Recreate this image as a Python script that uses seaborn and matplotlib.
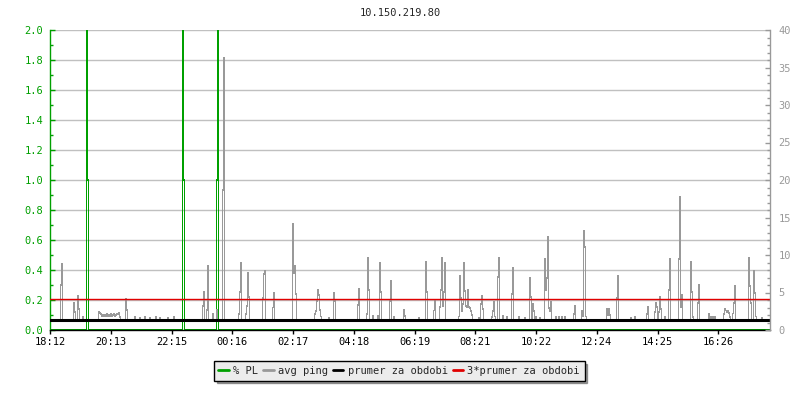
import numpy as np
import pandas as pd
import matplotlib
matplotlib.use("Agg")
import matplotlib.pyplot as plt
from matplotlib.ticker import MultipleLocator, FormatStrFormatter
from matplotlib.lines import Line2D
import seaborn as sns

host = "10.150.219.80"

# 24 h window from 18:12, one slot = 2 minutes
slot_min = 2
n_slots = 720
base_ms = 1.3

# avg ping spikes (slot number, ms)
spike_slot = [11, 12, 24, 25, 28, 29, 33, 76, 77, 85, 90, 95, 100, 106, 110, 118, 124,
              153, 154, 157, 158, 163, 167, 173, 174,
              189, 190, 191, 196, 197, 198, 199, 213, 214, 215, 223, 224, 243, 244, 245, 246,
              265, 266, 267, 268, 269, 270, 271, 279, 284, 285, 308, 309,
              317, 318, 319, 323, 328, 330, 331, 340, 341, 344, 354, 355,
              369, 376, 377, 384, 385, 390, 391, 392, 393, 394, 395,
              409, 410, 411, 412, 413, 414, 415, 416, 417, 418, 419, 420, 421, 422,
              429, 431, 432, 433, 442, 443, 444, 445, 448, 449, 453, 457,
              462, 463, 469, 475, 480, 481, 483, 484, 486, 490,
              495, 496, 497, 498, 499, 500, 501, 506, 509, 512, 515,
              524, 525, 532, 533, 534, 535, 536,
              557, 558, 559, 560, 567, 568, 581, 585,
              597, 598, 605, 606, 607, 609, 610, 611, 615,
              619, 620, 629, 630, 631, 632, 641, 642, 643, 648, 649,
              659, 661, 663, 665, 674, 675, 676, 677, 678, 679, 680,
              683, 684, 685, 699, 700, 701, 704, 705, 706, 712]
spike_ms = [6.0, 8.8, 3.6, 2.4, 4.5, 2.8, 1.8, 4.1, 2.7, 1.7, 1.6, 1.7, 1.6, 1.7, 1.6, 1.6, 1.7,
            3.2, 5.1, 2.7, 8.5, 2.1, 2.7, 18.7, 36.3,
            2.1, 5.1, 8.9, 2.1, 3.2, 7.6, 4.4, 4.3, 7.5, 7.9, 3.0, 5.0, 14.1, 7.6, 8.5, 4.8,
            2.1, 2.5, 3.9, 5.3, 4.7, 2.7, 1.8, 1.6, 4.9, 3.9, 3.3, 5.5,
            2.1, 9.6, 5.3, 1.9, 1.9, 8.9, 5.1, 3.9, 6.5, 1.7, 2.7, 1.9,
            1.6, 9.1, 5.1, 2.6, 3.9, 3.1, 5.3, 9.6, 3.2, 5.1, 8.9,
            1.8, 7.2, 4.3, 2.5, 3.5, 8.9, 5.2, 3.2, 3.1, 5.4, 3.1, 2.9, 2.5, 2.0,
            1.6, 3.5, 4.5, 2.8, 1.7, 2.5, 3.7, 1.8, 7.1, 9.6, 1.9, 1.7,
            4.8, 8.3, 1.7, 1.6, 6.9, 4.4, 3.5, 2.5, 1.7, 1.6,
            9.5, 5.3, 6.9, 12.4, 2.9, 2.5, 3.7, 1.7, 1.7, 1.7, 1.7,
            2.1, 3.2, 2.5, 1.8, 13.2, 11.1, 1.8,
            2.8, 2.0, 2.8, 2.0, 4.3, 7.2, 1.6, 1.7,
            2.1, 3.1, 2.4, 3.6, 3.1, 2.4, 4.4, 2.8, 1.7,
            5.3, 9.5, 9.5, 17.7, 3.0, 4.7, 9.1, 5.1, 1.7, 3.6, 6.0,
            2.1, 1.8, 1.8, 1.8, 2.1, 2.8, 2.6, 2.4, 2.5, 2.3, 1.7,
            2.2, 3.6, 5.9, 9.6, 5.9, 3.6, 7.9, 4.9, 1.8, 1.6]

# slightly raised stretch around 20:00
hump_start = 49
hump_ms = [2.4, 2.3, 2.1, 1.9, 2.0, 1.8, 2.0, 1.9, 2.1, 1.8, 2.0,
           1.9, 2.1, 1.8, 2.0, 2.1, 1.9, 2.0, 2.2, 2.1, 2.3, 1.7]

# packet loss in %
pl_slot = [37, 38, 133, 134, 167, 168]
pl_pct = [3.0, 1.0, 3.0, 1.0, 1.0, 3.0]

mean_ms = 1.37

tick_labels = ["18:12", "20:13", "22:15", "00:16", "02:17", "04:18",
               "06:19", "08:21", "10:22", "12:24", "14:25", "16:26"]
tick_step_min = 121.5

assert len(spike_slot) == len(spike_ms)

minutes = np.arange(n_slots) * slot_min
ping = np.full(n_slots, base_ms)
ping[hump_start:hump_start + len(hump_ms)] = hump_ms
ping[spike_slot] = spike_ms
pl = np.zeros(n_slots)
pl[pl_slot] = pl_pct
df = pd.DataFrame({"minute": minutes, "ping": ping, "pl": pl})

green = "#00a000"
gray = "#999999"
red = "#e00000"
fs = 7.5

sns.set_theme(style="white")
plt.rcParams["font.family"] = ["DejaVu Sans Mono"]
plt.rcParams["font.size"] = fs

fig = plt.figure(figsize=(8, 4), dpi=100)
ax = fig.add_axes([50 / 800, 70 / 400, 720 / 800, 300 / 400])
ax2 = ax.twinx()

sns.lineplot(data=df, x="minute", y="pl", ax=ax, color=green, lw=0.6,
             drawstyle="steps-mid", antialiased=False)
sns.lineplot(data=df, x="minute", y="ping", ax=ax2, color=gray, lw=0.5,
             drawstyle="steps-mid", antialiased=False)
ax2.axhline(mean_ms, color="black", lw=2.2)
ax2.axhline(3 * mean_ms, color=red, lw=1.0)

ax.set_xlim(0, n_slots * slot_min)
ax.set_ylim(0, 2.0)
ax2.set_ylim(0, 40)
ax.set_xlabel("")
ax.set_ylabel("")
ax2.set_ylabel("")

ax.set_axisbelow(True)
ax.yaxis.grid(True, color="#c0c0c0", lw=1)
ax.xaxis.grid(False)

ax.yaxis.set_major_locator(MultipleLocator(0.2))
ax.yaxis.set_minor_locator(MultipleLocator(0.1))
ax.yaxis.set_major_formatter(FormatStrFormatter("%.1f"))
ax.tick_params(axis="y", which="both", direction="in", left=True, right=False,
               colors=green, width=1, pad=5, labelsize=fs)
ax.tick_params(axis="y", which="major", length=3.6)
ax.tick_params(axis="y", which="minor", length=2.2)

ax.set_xticks([k * tick_step_min for k in range(len(tick_labels))], tick_labels)
ax.tick_params(axis="x", direction="out", bottom=True, length=3, width=1,
               colors="black", pad=2, labelsize=fs)

ax2.yaxis.set_major_locator(MultipleLocator(5))
ax2.yaxis.set_minor_locator(MultipleLocator(1))
ax2.tick_params(axis="y", which="both", direction="in", right=True, left=False,
                colors=gray, width=1, pad=6, labelsize=fs)
ax2.tick_params(axis="y", which="major", length=3.5)
ax2.tick_params(axis="y", which="minor", length=2)

for s in ["top", "right"]:
    ax.spines[s].set_visible(False)
ax.spines["left"].set_color(green)
ax.spines["bottom"].set_color("black")
for s in ["top", "left", "bottom"]:
    ax2.spines[s].set_visible(False)
ax2.spines["right"].set_color(gray)
for sp in list(ax.spines.values()) + list(ax2.spines.values()):
    sp.set_linewidth(1)

fig.text(0.5, 1 - 13 / 400, host, ha="center", va="center", fontsize=fs)

handles = [Line2D([], [], color=green, lw=2), Line2D([], [], color=gray, lw=2),
           Line2D([], [], color="black", lw=2), Line2D([], [], color=red, lw=2)]
labels = ["% PL", "avg ping", "prumer za obdobi", "3*prumer za obdobi"]
leg = fig.legend(handles, labels, loc="center", bbox_to_anchor=(0.499, 29 / 400), ncol=4,
                 frameon=True, fancybox=False, shadow=True, framealpha=1,
                 facecolor="#ececec", edgecolor="black", handlelength=1.0,
                 handletextpad=0.4, columnspacing=0.5, borderpad=0.45, fontsize=fs)
leg.get_frame().set_linewidth(1)

fig.savefig("out.png", dpi=100)
